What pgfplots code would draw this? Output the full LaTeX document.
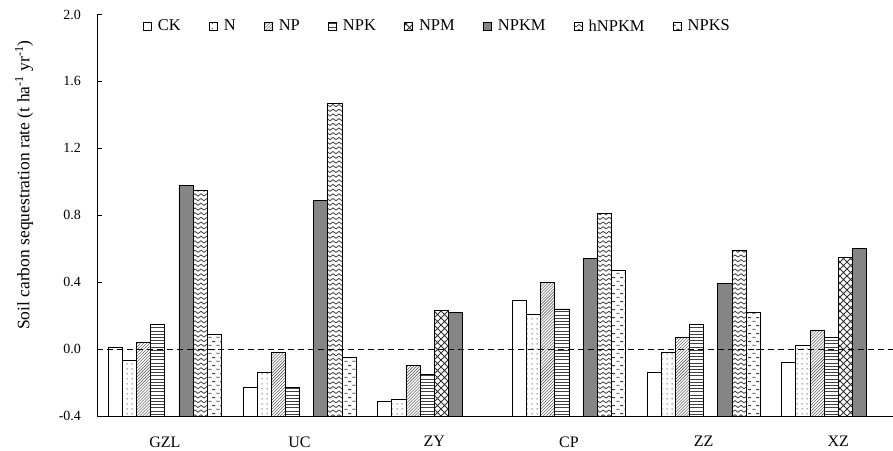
\documentclass[border=0pt]{standalone}
\usepackage{pgfplots}
\pgfplotsset{compat=1.18}
\usepackage{fontspec}
\setmainfont{Liberation Serif}
\usetikzlibrary{patterns}

% fill patterns for the treatments
\pgfdeclarepatternformonly{sparsedots}{\pgfqpoint{0bp}{0bp}}{\pgfqpoint{5bp}{5bp}}{\pgfqpoint{5bp}{5bp}}{%
  \pgfpathrectangle{\pgfqpoint{2bp}{2bp}}{\pgfqpoint{1.1bp}{1.1bp}}\pgfusepath{fill}}
\pgfdeclarepatternformonly{hlines}{\pgfqpoint{-0.5bp}{0bp}}{\pgfqpoint{4.5bp}{3.2bp}}{\pgfqpoint{4bp}{3.2bp}}{%
  \pgfsetlinewidth{0.9bp}%
  \pgfpathmoveto{\pgfqpoint{-0.5bp}{1.6bp}}\pgfpathlineto{\pgfqpoint{4.5bp}{1.6bp}}\pgfusepath{stroke}}
\pgfdeclarepatternformonly{diamonds}{\pgfqpoint{-0.5bp}{-0.5bp}}{\pgfqpoint{7.5bp}{7.5bp}}{\pgfqpoint{7bp}{7bp}}{%
  \pgfsetlinewidth{0.9bp}%
  \pgfpathmoveto{\pgfqpoint{-0.5bp}{-0.5bp}}\pgfpathlineto{\pgfqpoint{7.5bp}{7.5bp}}%
  \pgfpathmoveto{\pgfqpoint{-0.5bp}{7.5bp}}\pgfpathlineto{\pgfqpoint{7.5bp}{-0.5bp}}\pgfusepath{stroke}}
\pgfdeclarepatternformonly{zigzag}{\pgfqpoint{-0.5bp}{0bp}}{\pgfqpoint{6.5bp}{4.7bp}}{\pgfqpoint{6bp}{4.7bp}}{%
  \pgfsetlinewidth{0.8bp}%
  \pgfpathmoveto{\pgfqpoint{0bp}{1.2bp}}\pgfpathlineto{\pgfqpoint{3bp}{3.4bp}}\pgfpathlineto{\pgfqpoint{6bp}{1.2bp}}\pgfusepath{stroke}}
\pgfdeclarepatternformonly{dashrows}{\pgfqpoint{0bp}{0bp}}{\pgfqpoint{8bp}{8bp}}{\pgfqpoint{8bp}{8bp}}{%
  \pgfsetlinewidth{1bp}%
  \pgfpathmoveto{\pgfqpoint{0.5bp}{2bp}}\pgfpathlineto{\pgfqpoint{4bp}{2bp}}%
  \pgfpathmoveto{\pgfqpoint{4.5bp}{6bp}}\pgfpathlineto{\pgfqpoint{8bp}{6bp}}\pgfusepath{stroke}}

\pgfplotsset{
  treat/.style={ybar, bar width=0.105, draw=black, line width=0.8bp},
}

\begin{document}
\begin{tikzpicture}
\begin{axis}[
  name=ax,
  scale only axis,
  width=795.5bp, height=401.5bp,
  xmin=-0.5, xmax=5.406,
  ymin=0, ymax=2.4,
  % bars rise from the bottom of the axis (-0.4)
  y filter/.expression={y+0.4},
  axis x line*=bottom, axis y line*=left,
  axis line style={line width=0.8bp, -},
  xtick={0,1,2,3,4,5},
  xticklabels={GZL,UC,ZY,CP,ZZ,XZ},
  x tick style={draw=none},
  ytick={0,0.4,0.8,1.2,1.6,2.0,2.4},
  yticklabels={-0.4,0.0,0.4,0.8,1.2,1.6,2.0},
  y tick style={line width=0.8bp, black},
  tick align=inside, major tick length=5bp,
  xticklabel style={font=\fontsize{16bp}{18bp}\selectfont, yshift=-17bp},
  yticklabel style={font=\fontsize{14bp}{16bp}\selectfont, xshift=-13bp},
  ylabel={Soil carbon sequestration rate (t ha\textsuperscript{-1} yr\textsuperscript{-1})},
  ylabel style={font=\fontsize{17.5bp}{19bp}\selectfont,
    at={(axis description cs:-0.0924,0.575)}, anchor=center},
  legend columns=8,
  legend style={at={(axis description cs:0.0572,0.971)}, anchor=west,
    draw=none, fill=none, inner sep=0pt,
    font=\fontsize{16.5bp}{18bp}\selectfont,
    /tikz/every odd column/.append style={column sep=4bp},
    /tikz/every even column/.append style={column sep=26.5bp}},
  legend image code/.code={\draw[#1, line width=0.6bp] (0bp,-4bp) rectangle (8bp,4bp);},
]
% CK
\addplot[treat, bar shift=-0.3675, fill=white]
  coordinates {(0,0.01) (1,-0.23) (2,-0.31) (3,0.29) (4,-0.14) (5,-0.08)};
% N
\addplot[treat, bar shift=-0.2625, pattern=sparsedots, pattern color=black!70]
  coordinates {(0,-0.07) (1,-0.14) (2,-0.30) (3,0.21) (4,-0.02) (5,0.02)};
% NP
\addplot[treat, bar shift=-0.1575, pattern=north east lines, pattern color=black!75]
  coordinates {(0,0.04) (1,-0.02) (2,-0.10) (3,0.40) (4,0.07) (5,0.11)};
% NPK
\addplot[treat, bar shift=-0.0525, pattern=hlines, pattern color=black!75]
  coordinates {(0,0.15) (1,-0.23) (2,-0.15) (3,0.24) (4,0.15) (5,0.07)};
% NPM
\addplot[treat, bar shift=0.0525, pattern=diamonds, pattern color=black!80]
  coordinates {(2,0.23) (5,0.55)};
% NPKM
\addplot[treat, bar shift=0.1575, fill=black!48]
  coordinates {(0,0.98) (1,0.89) (2,0.22) (3,0.54) (4,0.39) (5,0.60)};
% hNPKM
\addplot[treat, bar shift=0.2625, pattern=zigzag, pattern color=black!75]
  coordinates {(0,0.95) (1,1.47) (3,0.81) (4,0.59)};
% NPKS
\addplot[treat, bar shift=0.3675, pattern=dashrows, pattern color=black!75]
  coordinates {(0,0.09) (1,-0.05) (3,0.47) (4,0.22)};
\legend{CK,N,NP,NPK,NPM,NPKM,hNPKM,NPKS}
% zero reference line
\draw[line width=1bp, dash pattern=on 6bp off 4bp] (rel axis cs:0,0.166667) -- (rel axis cs:1,0.166667);
\end{axis}
\pgfresetboundingbox
\path[use as bounding box] ([xshift=-97.5bp,yshift=-35bp]ax.south west) rectangle ([yshift=14.5bp]ax.north east);
\end{tikzpicture}
\end{document}
